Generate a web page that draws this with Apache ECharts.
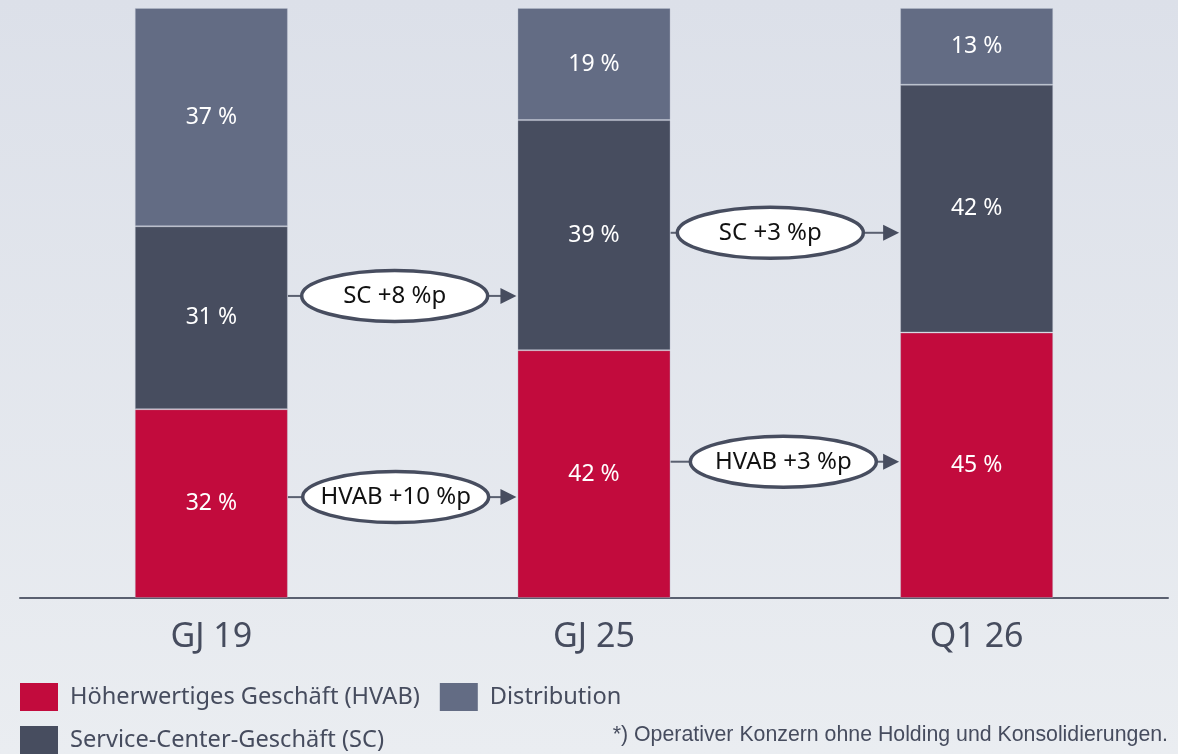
<!DOCTYPE html>
<html>
<head>
<meta charset="utf-8">
<script src="https://cdn.jsdelivr.net/npm/echarts@6/dist/echarts.min.js"></script>
<style>
  html, body { margin: 0; padding: 0; }
  #chart { width: 1178px; height: 754px; }
</style>
</head>
<body>
<div id="chart"></div>
<script>
// Daten
const categories = ['GJ 19', 'GJ 25', 'Q1 26'];
const hvab = [32, 42, 45];
const sc = [31, 39, 42];
const distribution = [37, 19, 13];
const seriesNames = ['Höherwertiges Geschäft (HVAB)', 'Service-Center-Geschäft (SC)', 'Distribution'];
const changeLabels = ['SC +8 %p', 'HVAB +10 %p', 'SC +3 %p', 'HVAB +3 %p'];
const changeFrom = [0, 0, 1, 1];
const footnote = '*) Operativer Konzern ohne Holding und Konsolidierungen.';

// Layout der Pfeil-Ellipsen (Höhe in Achsen-Einheiten, x-Versatz in px)
const changeLevel = [51.2, 17.1, 61.9, 23.1];
const changeShift = [-8, -7, -15, -2];

const colors = ['#c20b3d', '#474d5f', '#636c84'];
const textColor = '#464c5e';
const font = '"Noto Sans", "Open Sans", sans-serif';

let myChart = echarts.init(document.getElementById('chart'));

function barSeries (name, data, color) {
  return {
    name: name,
    type: 'bar',
    stack: 'total',
    barWidth: '40%',
    data: data,
    itemStyle: { color: color, borderColor: 'rgba(190,196,210,0.35)', borderWidth: 1 },
    label: {
      show: true,
      position: 'inside',
      formatter: '{c} %',
      color: '#fff',
      fontSize: 23,
      fontFamily: font
    }
  }
}

let legendText = { fontSize: 23.6, color: textColor, fontFamily: font, padding: [0, 0, 0, 7] };
let legendItem = { borderWidth: 0 };

let option = {
  backgroundColor: {
    type: 'linear', x: 0, y: 0, x2: 0, y2: 1,
    colorStops: [{ offset: 0, color: '#dce0e9' }, { offset: 1, color: '#eaedf1' }]
  },
  animation: false,
  color: colors,
  grid: { left: 20, right: 10, top: 8, bottom: 156 },
  legend: [
    {
      data: [seriesNames[0], seriesNames[2]],
      left: 20, top: 683, padding: 0,
      icon: 'rect', itemWidth: 38, itemHeight: 28, itemGap: 20,
      itemStyle: legendItem,
      textStyle: legendText
    },
    {
      data: [seriesNames[1]],
      left: 20, top: 726, padding: 0,
      icon: 'rect', itemWidth: 38, itemHeight: 28,
      itemStyle: legendItem,
      textStyle: legendText
    }
  ],
  xAxis: {
    type: 'category',
    data: categories,
    axisLine: { lineStyle: { color: '#5a6070', width: 2 } },
    axisTick: { show: false },
    axisLabel: { fontSize: 34, color: textColor, fontFamily: font, margin: 22 }
  },
  yAxis: {
    type: 'value',
    min: 0,
    max: 100,
    show: false,
    splitLine: { show: false }
  },
  series: [
    barSeries(seriesNames[0], hvab, colors[0]),
    barSeries(seriesNames[1], sc, colors[1]),
    barSeries(seriesNames[2], distribution, colors[2])
  ]
};
myChart.setOption(option);

// Pfeile mit Ellipsen zwischen den Balken
function drawChanges () {
  let p0 = myChart.convertToPixel({ xAxisIndex: 0, yAxisIndex: 0 }, [0, 0]);
  let p1 = myChart.convertToPixel({ xAxisIndex: 0, yAxisIndex: 0 }, [1, 0]);
  let half = (p1[0] - p0[0]) * 0.4 / 2;
  let rx = 93, ry = 25.5;
  let elements = [];
  changeLabels.forEach((txt, i) => {
    let a = myChart.convertToPixel({ xAxisIndex: 0, yAxisIndex: 0 }, [changeFrom[i], changeLevel[i]]);
    let b = myChart.convertToPixel({ xAxisIndex: 0, yAxisIndex: 0 }, [changeFrom[i] + 1, changeLevel[i]]);
    let x1 = a[0] + half;
    let x2 = b[0] - half;
    let y = a[1];
    let cx = (x1 + x2) / 2 + changeShift[i];
    let tip = x2 - 1;
    elements.push({
      type: 'line',
      shape: { x1: x1, y1: y, x2: cx - rx, y2: y },
      style: { stroke: '#5a6070', lineWidth: 2 }
    });
    elements.push({
      type: 'line',
      shape: { x1: cx + rx, y1: y, x2: tip - 14, y2: y },
      style: { stroke: '#5a6070', lineWidth: 2 }
    });
    elements.push({
      type: 'polygon',
      shape: { points: [[tip - 16, y - 8], [tip, y], [tip - 16, y + 8]] },
      style: { fill: '#474d5f' }
    });
    elements.push({
      type: 'ellipse',
      shape: { cx: cx, cy: y, rx: rx, ry: ry },
      style: { fill: '#fff', stroke: '#474d5f', lineWidth: 3.5 }
    });
    elements.push({
      type: 'text',
      x: cx, y: y,
      style: {
        text: txt, x: 0, y: 0,
        align: 'center', verticalAlign: 'middle',
        textAlign: 'center', textVerticalAlign: 'middle',
        fill: '#111', fontSize: 24, fontFamily: font
      }
    });
  });
  elements.push({
    type: 'text',
    right: 10, top: 725,
    style: {
      text: footnote,
      fill: textColor, fontSize: 21.3, fontFamily: '"Liberation Sans", Arial, sans-serif'
    }
  });
  myChart.setOption({ graphic: elements });
}
drawChanges();
</script>
</body>
</html>
